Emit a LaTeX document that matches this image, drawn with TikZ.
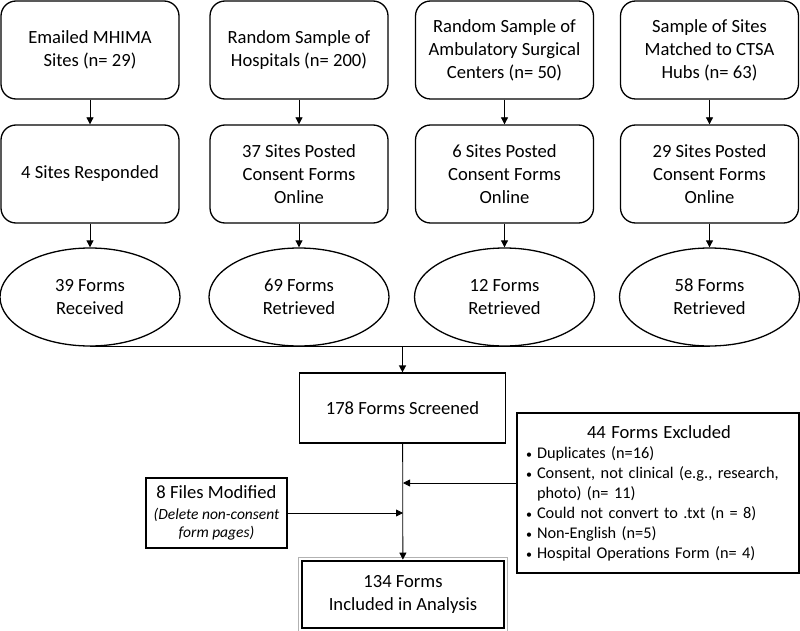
\documentclass[tikz,border=0pt]{standalone}
\usepackage{fontspec}
\setmainfont{Carlito}
\usetikzlibrary{shapes.geometric,arrows.meta}

\newcommand{\bul}{\makebox[11pt][l]{\fontsize{12}{12}\selectfont\textbullet}}

\begin{document}
\begin{tikzpicture}[x=1pt,y=1pt,
    >={Triangle[length=7pt,width=7pt]},
    txt/.style={font=\fontsize{18.6}{23}\selectfont,align=center},
    srcbox/.style={txt,draw,line width=1.3pt,rounded corners=15pt,minimum width=178pt,minimum height=98pt,inner sep=2pt},
    formoval/.style={txt,ellipse,draw,line width=1.3pt,minimum width=180pt,minimum height=98pt,inner sep=0pt},
    plainbox/.style={txt,draw,line width=1.2pt,inner sep=3pt}]
    \path[use as bounding box] (0,0) rectangle (800,-631);

    \path
    (90,-50) node[srcbox](s1) {Emailed MHIMA\\Sites (n= 29)}
    (299,-50) node[srcbox](s2) {Random Sample of\\Hospitals (n= 200)}
    (504.5,-50) node[srcbox](s3) {Random Sample of\\Ambulatory Surgical\\Centers (n= 50)}
    (709.5,-50) node[srcbox](s4) {Sample of Sites\\Matched to CTSA\\Hubs (n= 63)};
    \path
    (90,-174) node[srcbox](p1) {4 Sites Responded}
    (299,-174) node[srcbox](p2) {37 Sites Posted\\Consent Forms\\Online}
    (504.5,-174) node[srcbox](p3) {6 Sites Posted\\Consent Forms\\Online}
    (709.5,-174) node[srcbox](p4) {29 Sites Posted\\Consent Forms\\Online};
    \path
    (90,-297) node[formoval](f1) {39 Forms\\Received}
    (299,-297) node[formoval](f2) {69 Forms\\Retrieved}
    (504.5,-297) node[formoval](f3) {12 Forms\\Retrieved}
    (709.5,-297) node[formoval](f4) {58 Forms\\Retrieved};
    \node[plainbox,minimum width=206pt,minimum height=70pt] (scr) at (402.5,-408) {178 Forms Screened};
    \node[plainbox,minimum width=141pt,minimum height=70pt,inner sep=1pt] (mod) at (216.5,-513)
        {8 Files Modified\\[-2pt] {\fontsize{15.5}{19}\selectfont\itshape (Delete non-consent}\\[-5pt] {\fontsize{15.5}{19}\selectfont\itshape form pages)}};
    \node[draw,line width=1.2pt,minimum width=282pt,minimum height=160pt,inner xsep=9pt,inner ysep=4pt,text width=264pt,align=left,font=\fontsize{16.3}{20}\selectfont] (exc) at (658,-493)
        {\hspace*{61pt}{\fontsize{18.6}{22}\selectfont 44 Forms Excluded}\\
        \bul Duplicates (n=16)\\
        \bul Consent, not clinical (e.g., research,\\
        \hspace*{11pt}photo) (n= 11)\\
        \bul Could not convert to .txt (n = 8)\\
        \bul Non-English (n=5)\\
        \bul Hospital Operations Form (n= 4)};
    \node[plainbox,minimum width=202pt,minimum height=67pt,line width=2.8pt] (inc) at (403,-594.5) {134 Forms\\Included in Analysis};

    % outer grey frame of the result box
    \draw[gray!60,line width=1.2pt] ([shift={(-2.4pt,-2.4pt)}]inc.south west) rectangle ([shift={(2.4pt,2.4pt)}]inc.north east);

    % columns
    \foreach \i in {1,...,4} {
        \draw[->,line width=0.8pt] (s\i) -- (p\i);
        \draw[->,line width=0.8pt] (p\i) -- (f\i);
    }

    % merge into screening
    \coordinate (mrg) at (scr.north |- f1.south);
    \draw[line width=0.8pt] (f1.south) -- (f4.south);
    \draw[->,line width=1.4pt] (mrg) -- (scr);
    \draw[->,line width=0.8pt] (scr) -- (inc);

    \coordinate (exin) at (403,-483);
    \draw[->,line width=0.8pt] (exc.west |- exin) -- (exin);
    \draw[->,line width=0.8pt] (mod.east) -- (mod.east -| inc.north);
\end{tikzpicture}
\end{document}
